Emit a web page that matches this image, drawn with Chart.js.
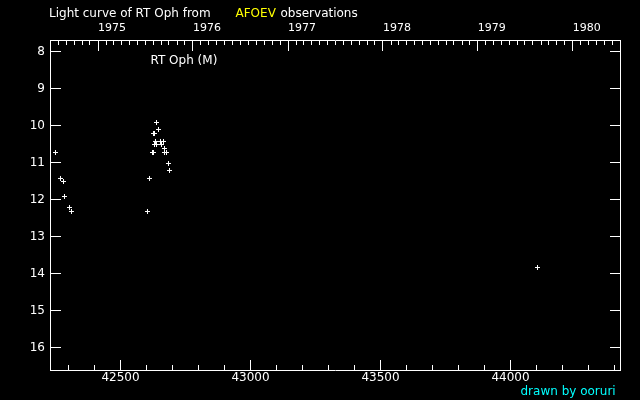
<!DOCTYPE html>
<html>
<head>
<meta charset="utf-8">
<script src="https://cdn.jsdelivr.net/npm/chart.js@4.4.1/dist/chart.umd.min.js"></script>
<style>
html,body{margin:0;padding:0;background:#000;overflow:hidden}
#wrap{width:640px;height:400px;position:relative}
</style>
</head>
<body>
<div id="wrap"><canvas id="c" width="640" height="400"></canvas></div>
<script>
// ---- chart data ----
const titleParts = ['Light curve of RT Oph from', 'AFOEV', 'observations'];
const starLabel = 'RT Oph (M)';
const creditText = 'drawn by ooruri';

// Julian Date - 2400000
const jdValues = [
  42250.0, 42269.2, 42280.8, 42284.6, 42303.8, 42311.5,
  42603.8, 42611.5, 42623.1, 42626.9, 42626.9, 42630.8,
  42630.8, 42634.6, 42638.5, 42638.5, 42646.2, 42653.8,
  42657.7, 42665.4, 42669.2, 42669.2, 42676.9, 42684.6,
  42688.5, 44103.8
];
// visual magnitude
const magValues = [
  10.730, 11.432, 11.514, 11.919, 12.216, 12.324,
  12.324, 11.432, 10.730, 10.730, 10.216, 10.216,
  10.514, 10.432, 9.919, 10.514, 10.108, 10.432,
  10.514, 10.432, 10.622, 10.730, 10.730, 11.027,
  11.216, 13.838
];

const xTickValues = [42500, 43000, 43500, 44000];
const xMinorStep = 100;
const yTickValues = [8, 9, 10, 11, 12, 13, 14, 15, 16];
const yearLabels = [1975, 1976, 1977, 1978, 1979, 1980];

const xMin = 42228.85, xMax = 44421.16;
const yMin = 7.6892, yMax = 16.6081;

// JD-2400000 at 0h UT on the first day of a month
function jdOf(year, month) { return Date.UTC(year, month, 1) / 86400000 + 40587.5; }

const points = jdValues.map((x, i) => ({ x: x, y: magValues[i] }));

const FONT = 'DejaVu Sans';

const decor = {
  id: 'decor',
  beforeDatasetsDraw(chart) {
    const { ctx, chartArea: a, scales } = chart;
    const L = a.left, R = a.right, T = a.top, B = a.bottom;
    ctx.save();
    ctx.strokeStyle = '#ffffff';
    ctx.lineWidth = 1;
    ctx.beginPath();
    // magnitude ticks, inward on both sides
    yTickValues.forEach(v => {
      const y = Math.floor(scales.y.getPixelForValue(v)) + 0.5;
      ctx.moveTo(L, y); ctx.lineTo(L + 11, y);
      ctx.moveTo(R - 10, y); ctx.lineTo(R, y);
    });
    // JD ticks on bottom
    for (let v = Math.ceil(xMin / xMinorStep) * xMinorStep; v <= xMax; v += xMinorStep) {
      const x = Math.floor(scales.x.getPixelForValue(v)) + 0.5;
      const len = xTickValues.includes(v) ? 10 : 5;
      ctx.moveTo(x, B); ctx.lineTo(x, B - len);
    }
    // year / month ticks on top
    for (let yr = yearLabels[0] - 1; yr <= yearLabels[yearLabels.length - 1] + 1; yr++) {
      for (let m = 0; m < 12; m++) {
        const jd = jdOf(yr, m);
        if (jd < xMin || jd > xMax) continue;
        const x = Math.floor(scales.x2.getPixelForValue(jd)) + 0.5;
        const len = m === 0 ? 10 : 4;
        ctx.moveTo(x, T + 1); ctx.lineTo(x, T + 1 + len);
      }
    }
    ctx.stroke();
    ctx.restore();
  },
  afterDraw(chart) {
    const ctx = chart.ctx;
    ctx.save();
    ctx.font = '12px "' + FONT + '"';
    ctx.textBaseline = 'alphabetic';
    ctx.textAlign = 'left';
    ctx.fillStyle = '#ffffff';
    ctx.fillText(titleParts[0], 49, 17);
    ctx.fillStyle = '#ffff00';
    ctx.fillText(titleParts[1], 235.5, 17);
    ctx.fillStyle = '#ffffff';
    ctx.fillText(titleParts[2], 280.5, 17);
    ctx.fillText(starLabel, 150.5, 64);
    ctx.fillStyle = '#00ffff';
    ctx.fillText(creditText, 520.5, 395);
    ctx.restore();
  }
};

const zeroPad = s => { s.paddingLeft = 0; s.paddingRight = 0; s.paddingTop = 0; s.paddingBottom = 0; };

new Chart(document.getElementById('c'), {
  type: 'scatter',
  data: {
    datasets: [{
      data: points,
      pointStyle: 'cross',
      radius: 2.5,
      hoverRadius: 2.5,
      borderColor: '#ffffff',
      backgroundColor: '#ffffff',
      borderWidth: 1,
      showLine: false
    }]
  },
  options: {
    responsive: false,
    animation: false,
    devicePixelRatio: 1,
    events: [],
    layout: { padding: 0 },
    plugins: { legend: { display: false }, tooltip: { enabled: false }, title: { display: false } },
    scales: {
      x: {
        type: 'linear', position: 'bottom', min: xMin, max: xMax,
        afterBuildTicks: s => { s.ticks = xTickValues.map(v => ({ value: v })); },
        afterFit: s => { s.height = 30; zeroPad(s); },
        ticks: { color: '#ffffff', font: { family: FONT, size: 12 }, padding: 1,
                 maxRotation: 0, minRotation: 0, autoSkip: false, callback: v => String(v) },
        grid: { drawOnChartArea: false, drawTicks: false },
        border: { display: true, color: '#ffffff', width: 1 }
      },
      x2: {
        type: 'linear', position: 'top', min: xMin, max: xMax,
        afterBuildTicks: s => { s.ticks = yearLabels.map(y => ({ value: jdOf(y, 0) })); },
        afterFit: s => { s.height = 40; zeroPad(s); },
        ticks: { color: '#ffffff', font: { family: FONT, size: 11 }, padding: 5, align: 'start',
                 maxRotation: 0, minRotation: 0, autoSkip: false,
                 callback: (v, i) => String(yearLabels[i]) },
        grid: { drawOnChartArea: false, drawTicks: false },
        border: { display: true, color: '#ffffff', width: 1 }
      },
      y: {
        type: 'linear', position: 'left', reverse: true, min: yMin, max: yMax,
        afterBuildTicks: s => { s.ticks = yTickValues.map(v => ({ value: v })); },
        afterFit: s => { s.width = 50; zeroPad(s); },
        ticks: { color: '#ffffff', font: { family: FONT, size: 12 }, padding: 5,
                 autoSkip: false, callback: v => String(v) },
        grid: { drawOnChartArea: false, drawTicks: false },
        border: { display: true, color: '#ffffff', width: 1 }
      },
      y2: {
        type: 'linear', position: 'right', reverse: true, min: yMin, max: yMax,
        afterBuildTicks: s => { s.ticks = yTickValues.map(v => ({ value: v })); },
        afterFit: s => { s.width = 20; zeroPad(s); },
        ticks: { display: false },
        grid: { drawOnChartArea: false, drawTicks: false },
        border: { display: true, color: '#ffffff', width: 1 }
      }
    }
  },
  plugins: [decor]
});
</script>
</body>
</html>
